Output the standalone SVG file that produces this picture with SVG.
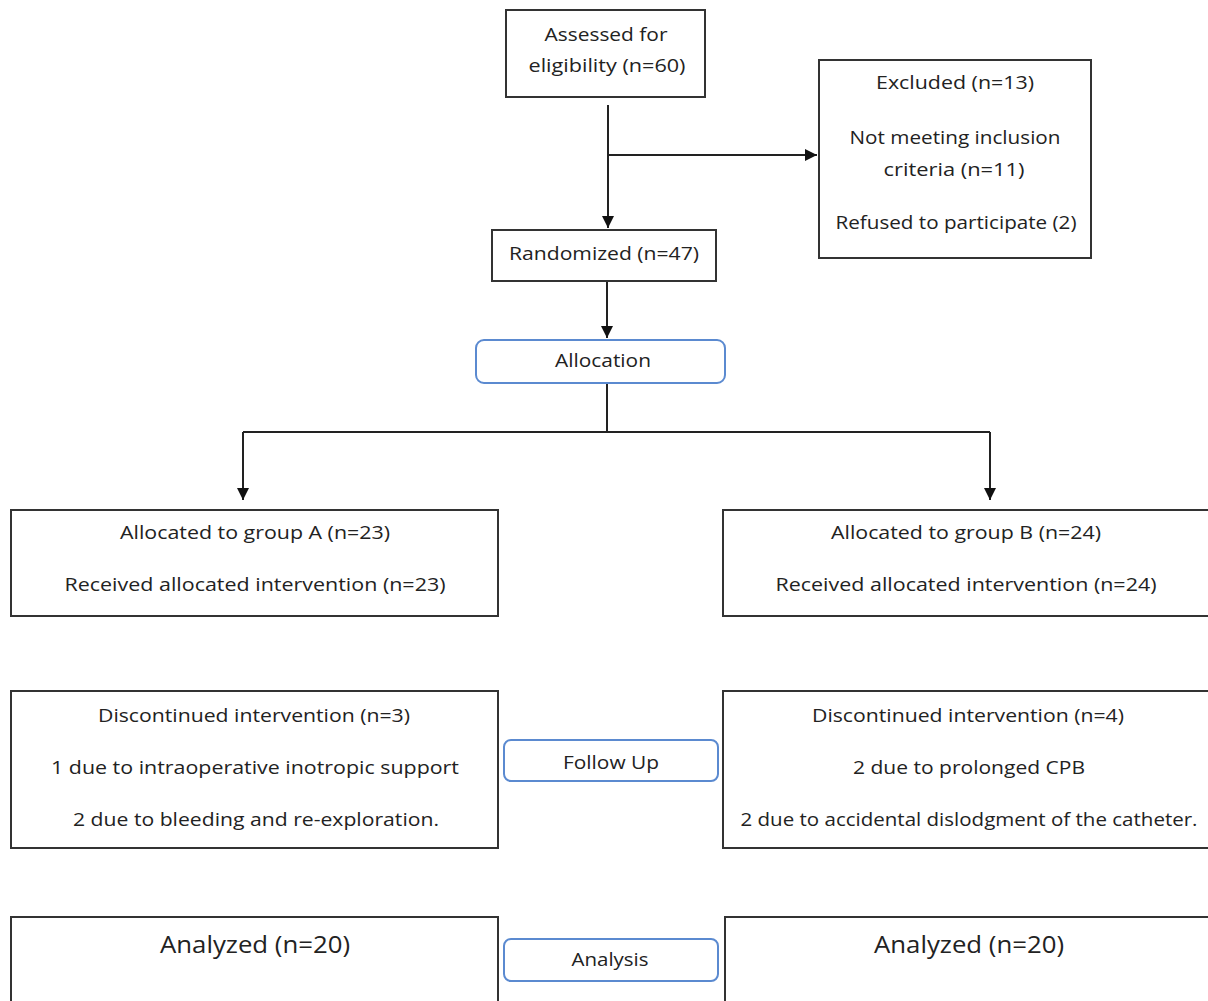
<svg xmlns="http://www.w3.org/2000/svg" width="1208" height="1001" viewBox="0 0 1208 1001">
<defs>
<style>
.box{fill:#fff;stroke:#333;stroke-width:2}
.rbox{fill:#fff;stroke:#5b8ad0;stroke-width:2}
.t{font-family:"Open Sans","Liberation Sans",sans-serif;font-size:19px;fill:#222;text-anchor:middle}
.big{font-size:24px}
.line{fill:none;stroke:#222;stroke-width:2}
</style>
<marker id="ah" viewBox="0 0 10 10" refX="10" refY="5" markerWidth="6" markerHeight="6" markerUnits="strokeWidth" orient="auto">
<path d="M0,0 L10,5 L0,10 z" fill="#111"/>
</marker>
</defs>
<rect width="1208" height="1001" fill="#fff"/>
<g id="connectors">
<path class="line" d="M608,105 V228" marker-end="url(#ah)"/>
<path class="line" d="M608,155 H817" marker-end="url(#ah)"/>
<path class="line" d="M607,281 V338" marker-end="url(#ah)"/>
<path class="line" d="M607,383 V432"/>
<path class="line" d="M243,432 H990"/>
<path class="line" d="M243,432 V500" marker-end="url(#ah)"/>
<path class="line" d="M990,432 V500" marker-end="url(#ah)"/>
</g>
<g id="assessed">
<rect class="box" x="506" y="10" width="199" height="87"/>
<text class="t" x="606" y="41" textLength="123" lengthAdjust="spacingAndGlyphs">Assessed for</text>
<text class="t" x="607" y="72" textLength="157" lengthAdjust="spacingAndGlyphs">eligibility (n=60)</text>
</g>
<g id="excluded">
<rect class="box" x="819" y="60" width="272" height="198"/>
<text class="t" x="955" y="89" textLength="158" lengthAdjust="spacingAndGlyphs">Excluded (n=13)</text>
<text class="t" x="955" y="144" textLength="211" lengthAdjust="spacingAndGlyphs">Not meeting inclusion</text>
<text class="t" x="954" y="176" textLength="141" lengthAdjust="spacingAndGlyphs">criteria (n=11)</text>
<text class="t" x="956" y="229" textLength="241" lengthAdjust="spacingAndGlyphs">Refused to participate (2)</text>
</g>
<g id="randomized">
<rect class="box" x="492" y="230" width="224" height="51"/>
<text class="t" x="604" y="260" textLength="190" lengthAdjust="spacingAndGlyphs">Randomized (n=47)</text>
</g>
<g id="allocation">
<rect class="rbox" x="476" y="340" width="249" height="43" rx="8"/>
<text class="t" x="603" y="367" textLength="96" lengthAdjust="spacingAndGlyphs">Allocation</text>
</g>
<g id="groupA">
<rect class="box" x="11" y="510" width="487" height="106"/>
<text class="t" x="255" y="539" textLength="270" lengthAdjust="spacingAndGlyphs">Allocated to group A (n=23)</text>
<text class="t" x="255" y="591" textLength="381" lengthAdjust="spacingAndGlyphs">Received allocated intervention (n=23)</text>
</g>
<g id="groupB">
<rect class="box" x="723" y="510" width="495" height="106"/>
<text class="t" x="966" y="539" textLength="270" lengthAdjust="spacingAndGlyphs">Allocated to group B (n=24)</text>
<text class="t" x="966" y="591" textLength="381" lengthAdjust="spacingAndGlyphs">Received allocated intervention (n=24)</text>
</g>
<g id="discA">
<rect class="box" x="11" y="691" width="487" height="157"/>
<text class="t" x="254" y="722" textLength="312" lengthAdjust="spacingAndGlyphs">Discontinued intervention (n=3)</text>
<text class="t" x="255" y="774" textLength="408" lengthAdjust="spacingAndGlyphs">1 due to intraoperative  inotropic support</text>
<text class="t" x="256" y="826" textLength="366" lengthAdjust="spacingAndGlyphs">2 due to bleeding and re-exploration.</text>
</g>
<g id="followup">
<rect class="rbox" x="504" y="740" width="214" height="41" rx="7"/>
<text class="t" x="611" y="769" textLength="96" lengthAdjust="spacingAndGlyphs">Follow Up</text>
</g>
<g id="discB">
<rect class="box" x="723" y="691" width="495" height="157"/>
<text class="t" x="968" y="722" textLength="312" lengthAdjust="spacingAndGlyphs">Discontinued intervention (n=4)</text>
<text class="t" x="969" y="774" textLength="232" lengthAdjust="spacingAndGlyphs">2 due to prolonged CPB</text>
<text class="t" x="969" y="826" textLength="457" lengthAdjust="spacingAndGlyphs">2 due to accidental dislodgment of the catheter.</text>
</g>
<g id="analyzedA">
<rect class="box" x="11" y="917" width="487" height="100"/>
<text class="t big" x="255" y="953" textLength="190" lengthAdjust="spacingAndGlyphs">Analyzed (n=20)</text>
</g>
<g id="analysis">
<rect class="rbox" x="504" y="939" width="214" height="42" rx="7"/>
<text class="t" x="610" y="966" textLength="77" lengthAdjust="spacingAndGlyphs">Analysis</text>
</g>
<g id="analyzedB">
<rect class="box" x="725" y="917" width="493" height="100"/>
<text class="t big" x="969" y="953" textLength="190" lengthAdjust="spacingAndGlyphs">Analyzed (n=20)</text>
</g>
</svg>
